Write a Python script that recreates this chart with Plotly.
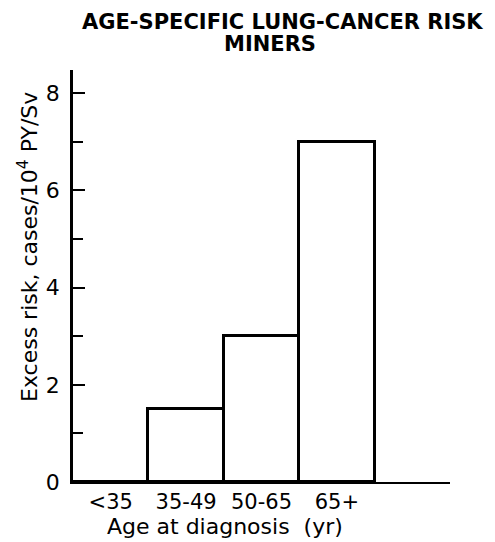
import plotly.graph_objects as go

categories = ["<35", "35-49", "50-65", "65+"]
excess_risk = [0, 1.5, 3, 7]
y_ticks = [0, 2, 4, 6, 8]
y_tick_labels = ["0", "2", "4", "6", "8"]

x_pos = list(range(len(categories)))
FONT = "DejaVu Sans"

fig = go.Figure()
fig.add_trace(go.Bar(
    x=x_pos, y=excess_risk, width=1.0,
    marker=dict(color="white", line=dict(color="black", width=3)),
    showlegend=False, hoverinfo="skip",
))

fig.update_layout(
    width=495, height=542,
    margin=dict(l=73, r=45, t=70, b=60, autoexpand=False),
    paper_bgcolor="white", plot_bgcolor="white",
    bargap=0,
    font=dict(family=FONT, color="black", size=22),
    xaxis=dict(
        range=[-0.5, 4.5], tickvals=x_pos, ticktext=categories,
        showline=True, linecolor="black", linewidth=2,
        showgrid=False, zeroline=False, ticks="",
        tickfont=dict(size=21, family=FONT), ticklabelstandoff=0,
    ),
    yaxis=dict(
        range=[0, 8.48], tickvals=y_ticks, ticktext=y_tick_labels,
        showline=True, linecolor="black", linewidth=2.5,
        showgrid=False, zeroline=False,
        ticks="inside", ticklen=12, tickwidth=1.5, tickcolor="black",
        minor=dict(ticks="inside", dtick=1, ticklen=10, tickwidth=1.5, tickcolor="black", showgrid=False),
        tickfont=dict(size=22, family=FONT), ticklabelstandoff=6,
    ),
    annotations=[
        dict(text="<b>AGE-SPECIFIC LUNG-CANCER RISK</b>", xref="paper", yref="paper",
             x=(282 - 73) / 377, y=(482 - 22) / 412, showarrow=False,
             font=dict(size=21, family=FONT), xanchor="center", yanchor="middle"),
        dict(text="<b>MINERS</b>", xref="paper", yref="paper",
             x=(270 - 73) / 377, y=(482 - 44) / 412, showarrow=False,
             font=dict(size=21, family=FONT), xanchor="center", yanchor="middle"),
        dict(text="Excess risk, cases/10<sup>4</sup> PY/Sv", xref="paper", yref="paper",
             x=(28 - 73) / 377, y=(482 - 247) / 412, showarrow=False, textangle=-90,
             font=dict(size=22, family=FONT), xanchor="center", yanchor="middle"),
        dict(text="Age at diagnosis  (yr)", xref="paper", yref="paper",
             x=(225 - 73) / 377, y=(482 - 526) / 412, showarrow=False,
             font=dict(size=22, family=FONT), xanchor="center", yanchor="middle"),
    ],
)

fig.write_html("out.html", post_script="document.body.style.margin='0';",
               config={"displayModeBar": False})
